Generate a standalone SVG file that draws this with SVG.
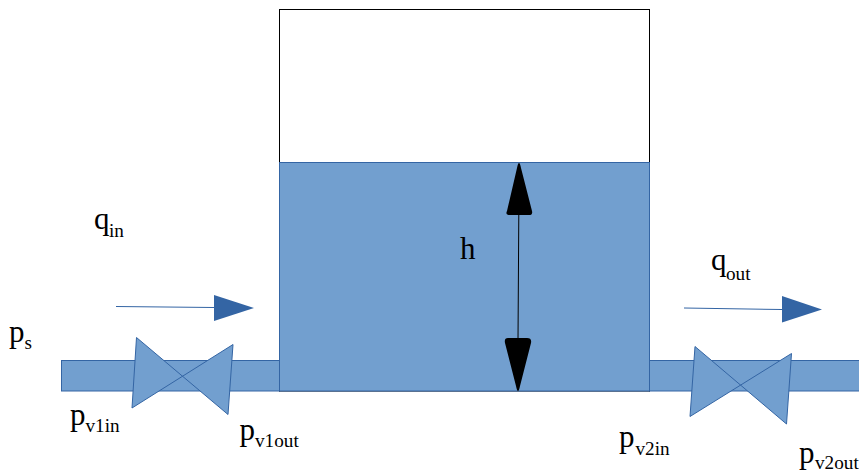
<svg xmlns="http://www.w3.org/2000/svg" width="859" height="474" viewBox="0 0 859 474">
<style>
.w{fill:#729fcf;stroke:#3465a4;stroke-width:1}
.t{font-family:"Liberation Serif",serif;fill:#000}
.m{font-size:31px}
.s{font-size:19.2px}
.fl{fill:none;stroke:#3465a4;stroke-width:1.1}
.ah{fill:#3465a4;stroke:none}
</style>
<rect width="859" height="474" fill="#fff"/>
<g id="pipe-left"><rect class="w" x="61.500" y="360.500" width="218" height="30.500"/></g>
<g id="pipe-right"><rect class="w" x="649.500" y="360.500" width="210" height="30.500"/></g>
<g id="tank"><rect x="279.500" y="9.500" width="370" height="381.500" fill="#fff" stroke="#000" stroke-width="1"/></g>
<g id="water"><rect class="w" x="279.500" y="162.500" width="370" height="228.500"/></g>
<g id="valve-1"><path class="w" d="M136.500 337.500 L228 414.500 L233 344.500 L132 408 Z"/></g>
<g id="valve-2"><path class="w" d="M695 346.500 L786.500 424 L791.500 353.500 L690 416.500 Z"/></g>
<g id="connectors">
<path d="M518.800 214 L518 340" fill="none" stroke="#000" stroke-width="1"/>
<path d="M519 163 Q520 163 521 168 L532 211 Q533 215 529 215 L510 215 Q505 215 507 211 L517 168 Q518 163 519 163 Z" fill="#000"/>
<path d="M518 391 Q517 391 516 386 L505 343 Q504 338 508 338 L527 338 Q532 338 531 343 L520 386 Q519 391 518 391 Z" fill="#000"/>
<path class="fl" d="M116 306.500 L214 307.500"/>
<path class="ah" d="M214 295 L254 308 L214 321 Z"/>
<path class="fl" d="M684 308 L782 309.500"/>
<path class="ah" d="M782 296 L822 309.500 L782 322.500 Z"/>
</g>
<g id="labels">
<text class="t m" x="9" y="342">p</text><text class="t s" x="24.500" y="349">s</text>
<text class="t m" x="94" y="229">q</text><text class="t s" x="109" y="237">in</text>
<text class="t m" x="711" y="270">q</text><text class="t s" x="726" y="280">out</text>
<text class="t m" x="460" y="259">h</text>
<text class="t m" x="70" y="425">p</text><text class="t s" x="85.500" y="432">v1in</text>
<text class="t m" x="239.500" y="440">p</text><text class="t s" x="255" y="447">v1out</text>
<text class="t m" x="619" y="447">p</text><text class="t s" x="635.500" y="455">v2in</text>
<text class="t m" x="799" y="463">p</text><text class="t s" x="815" y="469">v2out</text>
</g>
</svg>
